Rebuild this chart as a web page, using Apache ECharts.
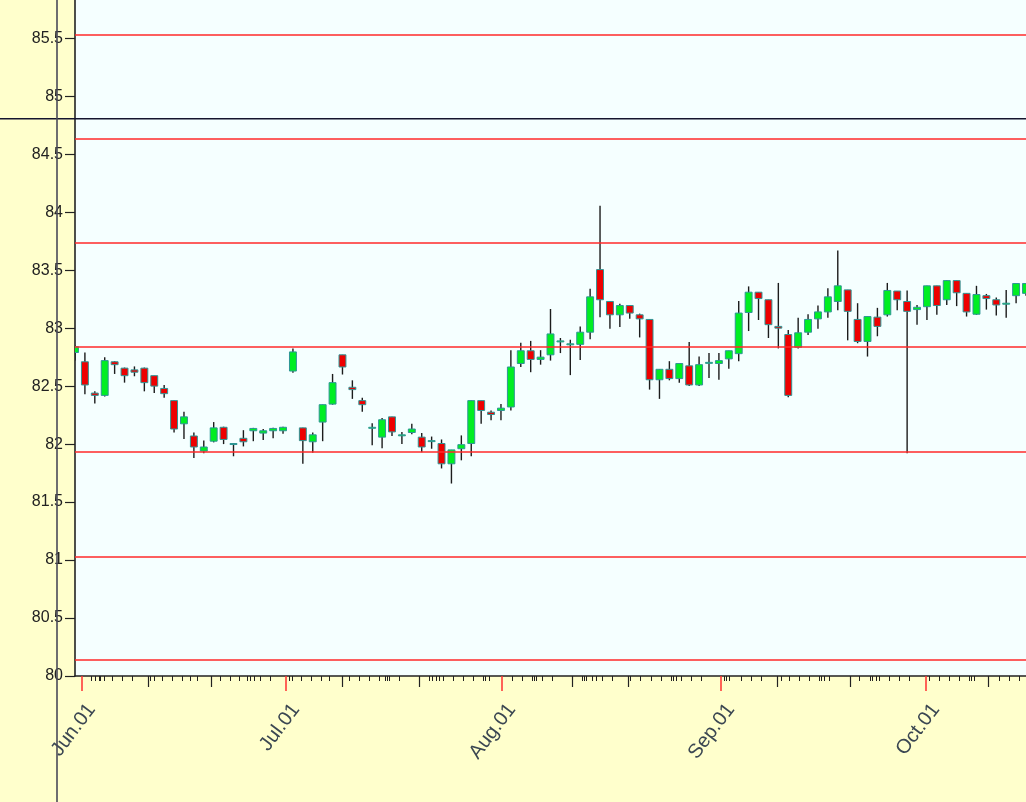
<!DOCTYPE html>
<html><head><meta charset="utf-8">
<script src="https://cdn.jsdelivr.net/npm/echarts@6/dist/echarts.min.js"></script>
<style>html,body{margin:0;padding:0;background:#FFFFCC;}#c{width:1026px;height:802px;}</style>
</head><body><div id="c"></div><script>
// candle index 0..96 (trading days, late May to mid Oct)
const opens  = [82.79,82.71,82.44,82.42,82.71,82.655,82.64,82.655,82.59,82.48,
                82.375,82.175,82.07,81.94,82.025,82.145,82.00,82.05,82.115,82.095,
                82.115,82.115,82.63,82.14,82.02,82.19,82.345,82.77,82.49,82.375,
                82.145,82.06,82.235,82.08,82.10,82.06,82.03,82.005,81.83,81.96,
                82.005,82.375,82.275,82.29,82.32,82.695,82.805,82.73,82.77,82.885,
                82.865,82.86,82.965,83.505,83.23,83.115,83.195,83.115,83.075,82.555,
                82.645,82.565,82.675,82.51,82.70,82.695,82.735,82.78,83.135,83.31,
                83.245,83.015,82.945,82.835,82.965,83.08,83.14,83.23,83.33,83.075,
                82.885,83.095,83.115,83.32,83.23,83.16,83.185,83.365,83.245,83.41,
                83.30,83.12,83.28,83.245,83.21,83.28,83.30];
const closes = [82.84,82.51,82.42,82.72,82.685,82.59,82.62,82.53,82.50,82.435,
                82.13,82.235,81.975,81.975,82.14,82.04,82.005,82.02,82.135,82.115,
                82.135,82.145,82.795,82.03,82.08,82.34,82.53,82.665,82.47,82.34,
                82.145,82.21,82.105,82.08,82.13,81.975,82.03,81.83,81.95,81.995,
                82.375,82.29,82.255,82.31,82.665,82.805,82.73,82.75,82.95,82.89,
                82.865,82.965,83.27,83.245,83.115,83.195,83.13,83.08,82.555,82.645,
                82.565,82.695,82.51,82.685,82.705,82.72,82.805,83.13,83.31,83.255,
                83.03,83.00,82.42,82.96,83.075,83.14,83.27,83.365,83.145,82.885,
                83.10,83.015,83.325,83.245,83.145,83.18,83.365,83.195,83.41,83.305,
                83.14,83.29,83.255,83.20,83.215,83.385,83.385];
const lows   = [82.72,82.43,82.35,82.41,82.605,82.53,82.585,82.455,82.44,82.40,
                82.10,82.045,81.88,81.92,82.015,82.00,81.895,81.98,82.025,82.035,
                82.05,82.09,82.615,81.83,81.925,82.025,82.34,82.60,82.39,82.28,
                81.99,81.965,82.07,82.00,82.085,81.93,81.96,81.79,81.66,81.86,
                81.895,82.175,82.205,82.205,82.29,82.665,82.62,82.685,82.72,82.785,
                82.595,82.725,82.905,83.095,82.995,83.01,83.08,82.92,82.47,82.39,
                82.55,82.53,82.50,82.50,82.57,82.555,82.65,82.715,82.975,83.07,
                82.915,82.825,82.405,82.825,82.94,82.995,83.09,83.155,82.895,82.87,
                82.755,82.93,83.10,83.155,81.92,83.03,83.07,83.115,83.20,83.19,
                83.10,83.115,83.16,83.11,83.09,83.215,83.28];
const highs  = [82.85,82.79,82.455,82.75,82.715,82.66,82.67,82.66,82.59,82.51,
                82.375,82.28,82.10,82.03,82.19,82.15,82.005,82.12,82.14,82.13,
                82.14,82.15,82.825,82.14,82.10,82.34,82.605,82.77,82.55,82.40,
                82.18,82.225,82.235,82.105,82.175,82.095,82.065,82.04,81.95,82.075,
                82.375,82.375,82.29,82.345,82.81,82.875,82.89,82.81,83.165,82.915,
                82.90,83.015,83.34,84.055,83.23,83.21,83.195,83.125,83.075,82.645,
                82.715,82.695,82.88,82.755,82.785,82.785,82.805,83.235,83.36,83.31,
                83.245,83.39,82.985,83.09,83.12,83.195,83.345,83.67,83.33,83.215,
                83.10,83.175,83.39,83.32,83.325,83.20,83.365,83.365,83.41,83.41,
                83.30,83.365,83.295,83.265,83.33,83.385,83.39];

// x-axis marks, in candle-index units
const monthTickIdx = [0.68, 21.30, 43.08, 65.19, 85.89];
const monthLabels  = ['Jun.01','Jul.01','Aug.01','Sep.01','Oct.01'];
const decadeTickIdx = [7.37,13.73,26.93,34.80,50.15,55.83,70.84,78.21,92.21];
const dayTickIdx = [1.59,2.09,2.42,2.59,2.93,3.74,4.75,5.75,7.64,7.98,8.78,9.79,10.80,11.68,12.32,
  14.71,15.72,16.56,17.37,17.74,18.07,18.75,19.76,21.61,21.91,22.79,23.80,24.81,25.64,27.73,28.74,
  29.75,30.76,31.30,31.53,31.77,32.78,35.74,36.07,36.48,36.82,37.15,38.16,39.17,40.18,41.19,41.39,
  41.80,44.09,45.10,46.11,46.34,46.57,47.12,48.13,51.16,51.39,51.62,52.23,52.57,53.24,54.25,56.03,
  57.11,58.12,59.13,60.14,60.37,60.65,61.15,62.16,63.17,65.52,65.76,66.03,67.21,68.22,69.23,71.25,
  72.09,73.10,74.11,75.12,75.35,75.62,76.12,79.15,80.23,80.49,80.84,81.17,82.18,83.19,84.20,86.22,
  87.23,88.24,89.25,90.26,90.49,90.76,93.29,94.30,95.31];

// y-axis ticks
const yTickValues = [80, 80.5, 81, 81.5, 82, 82.5, 83, 83.5, 84, 84.5, 85, 85.5];

// horizontal levels
const levelLines = [85.53, 84.63, 83.74, 82.84, 81.93, 81.035, 80.135];
const crossY = 84.806;

const candles = opens.map((o, i) => [i, o, closes[i], lows[i], highs[i]]);

const chart = echarts.init(document.getElementById('c'), null, {renderer: 'canvas'});
const box = {left: 75, right: 0, top: 0, bottom: 126};
const FONT = '"Liberation Sans", Arial, sans-serif';
const LABEL_SHIFT = 1.0; // month label anchor sits a little right of its tick

function renderItem(params, api) {
  const x = api.value(0), o = api.value(1), c = api.value(2), l = api.value(3), h = api.value(4);
  const pO = api.coord([x, o]), pC = api.coord([x, c]), pL = api.coord([x, l]), pH = api.coord([x, h]);
  const w = api.size([1, 0])[0] * 0.7;
  const top = Math.min(pO[1], pC[1]), bot = Math.max(pO[1], pC[1]);
  const up = c >= o;
  return {type: 'group', children: [
    {type: 'line', shape: {x1: pH[0], y1: pH[1], x2: pL[0], y2: pL[1]},
     style: {stroke: '#1c1c1c', lineWidth: 1.4}},
    {type: 'rect', shape: {x: pO[0] - w / 2, y: top, width: w, height: Math.max(bot - top, 1)},
     style: {fill: up ? '#00EE22' : '#EE0000', stroke: '#2E9696', lineWidth: 1}}
  ]};
}

function nearestLabel(v) {
  let best = 0;
  monthTickIdx.forEach((m, i) => { if (Math.abs(m + LABEL_SHIFT - v) < Math.abs(monthTickIdx[best] + LABEL_SHIFT - v)) best = i; });
  return monthLabels[best];
}

const xBase = {type: 'value', min: 0, max: 96, splitLine: {show: false}};
const yBase = {type: 'value', min: 80, max: 85.83};
const option = {
  animation: false,
  backgroundColor: '#FFFFCC',
  grid: [
    Object.assign({show: true, backgroundColor: '#F5FFFF', borderWidth: 0}, box),
    Object.assign({}, box),
    Object.assign({}, box)
  ],
  xAxis: [
    Object.assign({}, xBase, {gridIndex: 0,
      axisLine: {show: true, onZero: false, lineStyle: {color: '#222', width: 1.6}},
      axisTick: {show: true, length: 5, customValues: dayTickIdx, lineStyle: {color: '#222', width: 1}},
      axisLabel: {show: false}}),
    Object.assign({}, xBase, {gridIndex: 1,
      axisLine: {show: false},
      axisTick: {show: true, length: 11, customValues: decadeTickIdx, lineStyle: {color: '#222', width: 1.2}},
      axisLabel: {show: false}}),
    Object.assign({}, xBase, {gridIndex: 2,
      axisLine: {show: false},
      axisTick: {show: true, length: 15, customValues: monthTickIdx, lineStyle: {color: '#FF3030', width: 1.5}},
      axisLabel: {show: true, customValues: monthTickIdx.map(v => v + LABEL_SHIFT), formatter: nearestLabel,
        rotate: 53, margin: 30, fontSize: 20, fontFamily: FONT, color: '#3b4752'}})
  ],
  yAxis: [
    Object.assign({}, yBase, {gridIndex: 0,
     axisLine: {show: true, onZero: false, lineStyle: {color: '#222', width: 1.6}},
     axisTick: {show: true, length: 10, customValues: yTickValues, lineStyle: {color: '#222', width: 1.2}},
     axisLabel: {show: true, customValues: yTickValues, margin: 12, fontSize: 16, fontFamily: FONT, color: '#222'},
     splitLine: {show: false}}),
    Object.assign({}, yBase, {gridIndex: 1, show: false}),
    Object.assign({}, yBase, {gridIndex: 2, show: false})
  ],
  series: [{
    type: 'custom', xAxisIndex: 0, yAxisIndex: 0, data: candles,
    encode: {x: 0, y: [1, 2, 3, 4]}, renderItem: renderItem, clip: true,
    markLine: {silent: true, symbol: 'none', z: 5, label: {show: false},
      lineStyle: {color: '#FF2A2A', width: 1.6, type: 'solid'},
      data: levelLines.map(v => ({yAxis: v}))}
  }]
};
chart.setOption(option);

const yPix = chart.convertToPixel({yAxisIndex: 0}, crossY);
chart.setOption({graphic: [
  {type: 'line', z: 100, shape: {x1: 0, y1: yPix, x2: 1026, y2: yPix}, style: {stroke: '#15152e', lineWidth: 1.3}},
  {type: 'line', z: 100, shape: {x1: 57, y1: 0, x2: 57, y2: 802}, style: {stroke: '#4a4a58', lineWidth: 1.6}}
]});
</script></body></html>
